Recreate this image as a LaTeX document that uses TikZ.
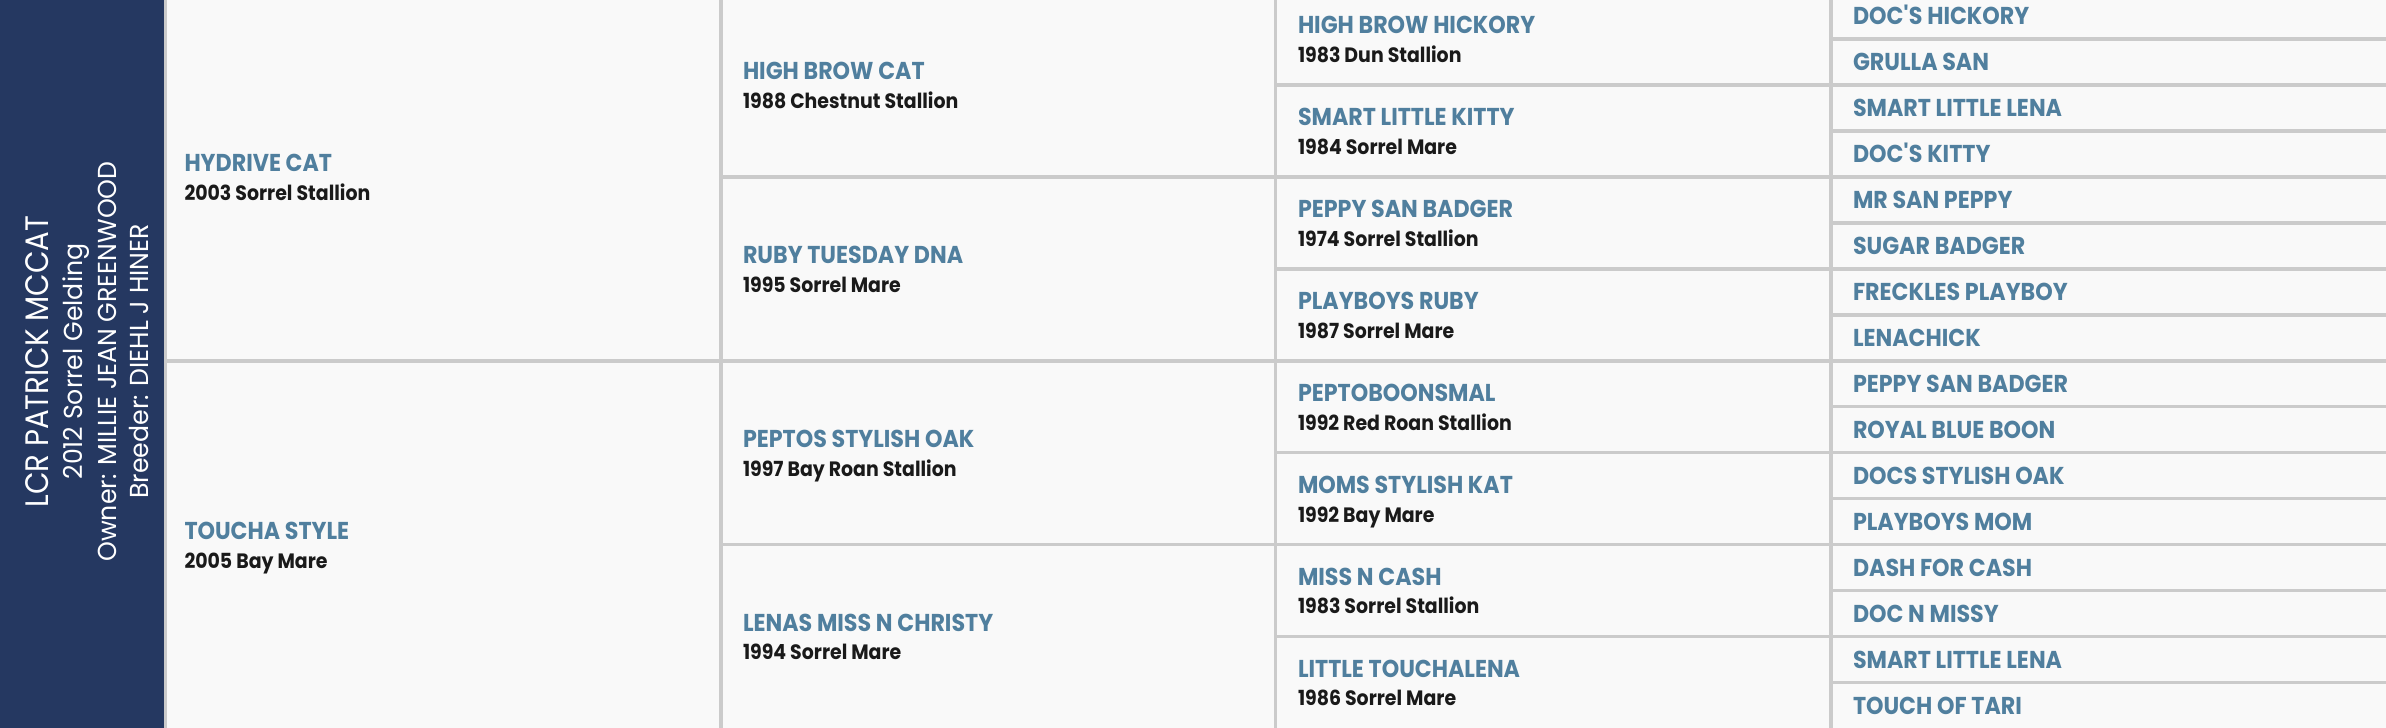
\documentclass[tikz,border=0pt]{standalone}
\usepackage{fontspec}
\setmainfont{Poppins}
\newfontfamily\namefont{Poppins Bold}[FakeStretch=0.91]
\newfontfamily\subfont{Poppins Bold}[FakeStretch=0.91]
\newfontfamily\titlefont{Poppins}[FakeStretch=0.9]
\newfontfamily\infofont{Poppins}[FakeStretch=0.97]
\definecolor{navy}{RGB}{37,56,97}
\definecolor{nameblue}{RGB}{80,127,158}
\definecolor{subblack}{RGB}{26,26,26}
\definecolor{gridgray}{RGB}{203,203,203}
\definecolor{cellbg}{RGB}{249,249,249}
\begin{document}
\begin{tikzpicture}[x=1pt,y=-1pt,
  nm/.style={inner sep=0pt,outer sep=0pt,anchor=base west,text=nameblue,
    font=\namefont\fontsize{24.4}{25}\selectfont},
  sb/.style={inner sep=0pt,outer sep=0pt,anchor=base west,text=subblack,
    font=\subfont\fontsize{20.8}{21}\selectfont},
  ptitle/.style={inner sep=0pt,outer sep=0pt,anchor=base,rotate=90,text=white,
    font=\titlefont\fontsize{32.5}{33}\selectfont},
  pinfo/.style={inner sep=0pt,outer sep=0pt,anchor=base,rotate=90,text=white,
    font=\infofont\fontsize{26}{26}\selectfont},
  gridline/.style={draw=gridgray,line width=3.6pt}]
\useasboundingbox (0,0) rectangle (2386,728);
% backgrounds
\fill[cellbg] (164,0) rectangle (2386,728);
\fill[navy] (0,0) rectangle (164,728);
% grid lines
\draw[gridline] (165.5,0) -- (165.5,728);
\draw[gridline] (721,0) -- (721,728);
\draw[gridline] (1275.5,0) -- (1275.5,728);
\draw[gridline] (1831,0) -- (1831,728);
\draw[gridline] (165.5,360.7) -- (2386,360.7);
\foreach \k in {4,12} \draw[gridline] (721,-7+45.96*\k) -- (2386,-7+45.96*\k);
\foreach \k in {2,6,10,14} \draw[gridline] (1275.5,-7+45.96*\k) -- (2386,-7+45.96*\k);
\foreach \k in {1,3,...,15} \draw[gridline] (1831,-7+45.96*\k) -- (2386,-7+45.96*\k);
% panel
\node[ptitle] (horse) at (48.7,361.5) {LCR PATRICK MCCAT};
\node[pinfo] (born) at (82.7,361.5) {2012 Sorrel Gelding};
\node[pinfo] (owner) at (116.7,361.5) {Owner: MILLIE JEAN GREENWOOD};
\node[pinfo] (breeder) at (148.5,361.5) {Breeder: DIEHL J HINER};
% generation 1
\foreach \nmx/\sbx [count=\i from 0] in {HYDRIVE CAT/2003 Sorrel Stallion,TOUCHA STYLE/2005 Bay Mare}{
  \pgfmathsetmacro\yc{-7+45.96*(8*\i+4)}
  \node[nm] (ga\i) at (184.5,\yc-5) {\nmx};
  \node[sb] (gad\i) at (184.5,\yc+23.5) {\sbx};
}
% generation 2
\foreach \nmx/\sbx [count=\i from 0] in {HIGH BROW CAT/1988 Chestnut Stallion,RUBY TUESDAY DNA/1995 Sorrel Mare,PEPTOS STYLISH OAK/1997 Bay Roan Stallion,LENAS MISS N CHRISTY/1994 Sorrel Mare}{
  \pgfmathsetmacro\yc{-7+45.96*(4*\i+2)}
  \node[nm] (gb\i) at (743,\yc-5) {\nmx};
  \node[sb] (gbd\i) at (743,\yc+23.5) {\sbx};
}
% generation 3
\foreach \nmx/\sbx [count=\i from 0] in {HIGH BROW HICKORY/1983 Dun Stallion,SMART LITTLE KITTY/1984 Sorrel Mare,PEPPY SAN BADGER/1974 Sorrel Stallion,PLAYBOYS RUBY/1987 Sorrel Mare,PEPTOBOONSMAL/1992 Red Roan Stallion,MOMS STYLISH KAT/1992 Bay Mare,MISS N CASH/1983 Sorrel Stallion,LITTLE TOUCHALENA/1986 Sorrel Mare}{
  \pgfmathsetmacro\yc{-7+45.96*(2*\i+1)}
  \node[nm] (gc\i) at (1298,\yc-5) {\nmx};
  \node[sb] (gcd\i) at (1298,\yc+23.5) {\sbx};
}
% generation 4
\foreach \nmx [count=\i from 0] in {DOC\textquotesingle S HICKORY,GRULLA SAN,SMART LITTLE LENA,DOC\textquotesingle S KITTY,MR SAN PEPPY,SUGAR BADGER,FRECKLES PLAYBOY,LENACHICK,PEPPY SAN BADGER,ROYAL BLUE BOON,DOCS STYLISH OAK,PLAYBOYS MOM,DASH FOR CASH,DOC N MISSY,SMART LITTLE LENA,TOUCH OF TARI}{
  \pgfmathsetmacro\yc{-7+45.96*(\i+0.5)}
  \node[nm] (gd\i) at (1853,\yc+9) {\nmx};
}
\end{tikzpicture}
\end{document}
